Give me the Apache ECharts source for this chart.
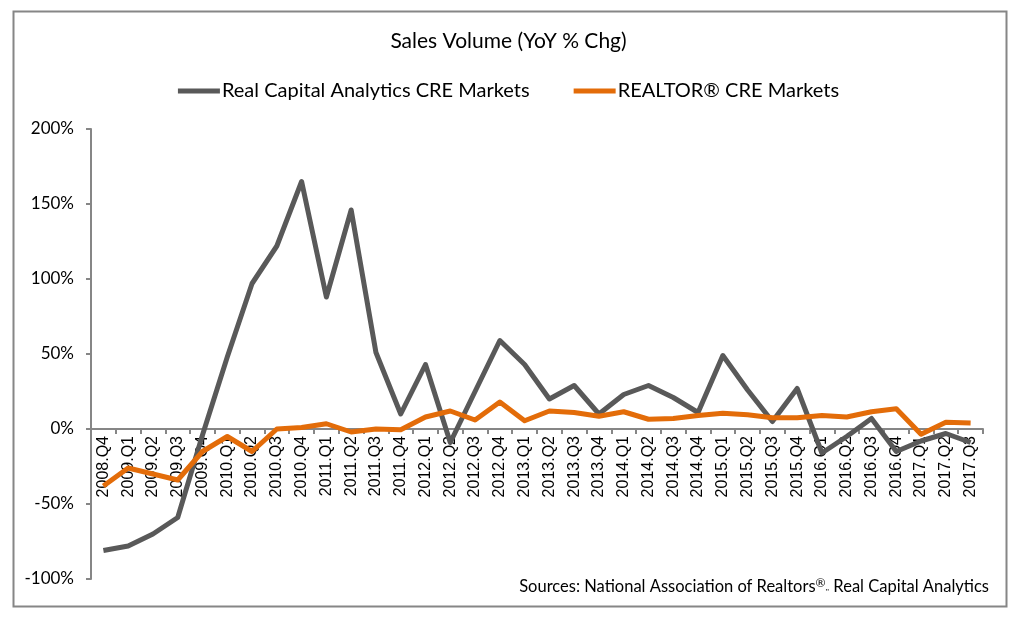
<!DOCTYPE html>
<html>
<head>
<meta charset="utf-8">
<script src="https://cdn.jsdelivr.net/npm/echarts@6/dist/echarts.min.js"></script>
<style>html,body{margin:0;padding:0;background:#fff}#c{width:1017px;height:618px}</style>
</head>
<body>
<div id="c"></div>
<script>
const categories = ['2008.Q4','2009.Q1','2009.Q2','2009.Q3','2009.Q4','2010.Q1','2010.Q2','2010.Q3','2010.Q4',
  '2011.Q1','2011.Q2','2011.Q3','2011.Q4','2012.Q1','2012.Q2','2012.Q3','2012.Q4',
  '2013.Q1','2013.Q2','2013.Q3','2013.Q4','2014.Q1','2014.Q2','2014.Q3','2014.Q4',
  '2015.Q1','2015.Q2','2015.Q3','2015.Q4','2016.Q1','2016.Q2','2016.Q3','2016.Q4',
  '2017.Q1','2017.Q2','2017.Q3'];
const rcaValues = [-81,-78,-70,-59,-4,48,97,122,165,88,146,51,10,43,-9,25,59,43,20,29,10,23,29,21,11,49,26,5,27,-16,-5,7,-15,-8,-3,-9];
const realtorValues = [-38,-26,-30,-34,-15,-5,-15,0,1,3.5,-2,0,-0.5,8,12,6,18,5.5,12,11,8.5,11.5,6.5,7,9,10.5,9.5,7.5,7.5,9,8,11.5,13.5,-3.5,4.5,4];
const seriesNames = ['Real Capital Analytics CRE Markets', 'REALTOR® CRE Markets'];
const yMin = -100, yMax = 200, yInterval = 50;
const titleText = 'Sales Volume (YoY % Chg)';
const sourcePre = 'Sources: National Association of Realtors', sourceSup = '®', sourceMid = ',,', sourcePost = ' Real Capital Analytics';

const chart = echarts.init(document.getElementById('c'), null, {renderer: 'canvas'});
const font = 'Lato, "Open Sans", sans-serif';
const gridTop = 129, gridBottom = 39, plotH = 618 - gridTop - gridBottom;
// offset that lifts the category axis from the grid bottom to the zero line
const zeroOffset = -plotH * (0 - yMin) / (yMax - yMin);
chart.setOption({
  animation: false,
  backgroundColor: '#fff',
  title: {
    text: titleText, left: 'center', top: 26,
    textStyle: {fontFamily: font, fontSize: 21, fontWeight: 'normal', color: '#000'}
  },
  legend: {
    top: 76, left: 'center', itemGap: 44, itemWidth: 42, itemHeight: 5, icon: 'rect',
    textStyle: {fontFamily: font, fontSize: 20, color: '#000', padding: [0,0,0,-3]},
    data: seriesNames
  },
  grid: {left: 91, right: 34, top: gridTop, bottom: gridBottom, containLabel: false, outerBoundsMode: 'none'},
  xAxis: {
    type: 'category', data: categories, boundaryGap: true, position: 'bottom', offset: zeroOffset, z: 0,
    axisLine: {onZero: false, lineStyle: {color: '#868686', width: 2}},
    axisTick: {show: true, length: 5, lineStyle: {color: '#868686', width: 2}},
    axisLabel: {interval: 0, rotate: 90, margin: 7, fontFamily: '"Liberation Sans", Arial, sans-serif', fontSize: 16, color: '#000'},
    splitLine: {show: false}
  },
  yAxis: {
    type: 'value', min: yMin, max: yMax, interval: yInterval,
    axisLine: {show: true, lineStyle: {color: '#868686', width: 2}},
    axisTick: {show: true, length: 5, lineStyle: {color: '#868686', width: 2}},
    axisLabel: {formatter: '{value}%', margin: 17, fontFamily: font, fontSize: 17, color: '#000'},
    splitLine: {show: false}
  },
  series: [
    {name: seriesNames[0], type: 'line', data: rcaValues, symbol: 'none', z: 5,
     lineStyle: {color: '#595959', width: 5, join: 'round'}, itemStyle: {color: '#595959'}},
    {name: seriesNames[1], type: 'line', data: realtorValues, symbol: 'none', z: 6,
     lineStyle: {color: '#E36C09', width: 5, join: 'round'}, itemStyle: {color: '#E36C09'}}
  ],
  graphic: [
    {type: 'rect', left: 11, top: 9, shape: {width: 993, height: 595},
     style: {fill: 'none', stroke: '#868686', lineWidth: 2}, silent: true},
    {type: 'text', right: 28, top: 577,
     style: {
       text: sourcePre + '{sup|' + sourceSup + '}{sm|' + sourceMid + '}' + sourcePost,
       fontFamily: font, fontSize: 16.5, fill: '#000',
       rich: {
         sup: {fontFamily: font, fontSize: 12, verticalAlign: 'top', padding: [0,0,8,0], fill: '#000'},
         sm: {fontFamily: font, fontSize: 8, fill: '#000'}
       }
     }}
  ]
});
</script>
</body>
</html>
